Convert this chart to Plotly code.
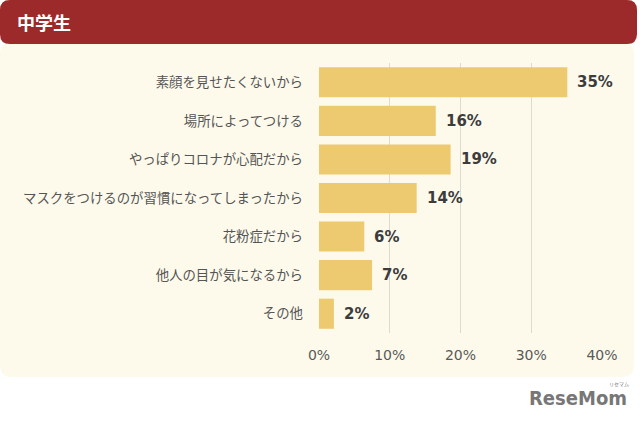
import plotly.graph_objects as go

categories = ["素顔を見せたくないから", "場所によってつける", "やっぱりコロナが心配だから",
              "マスクをつけるのが習慣になってしまったから", "花粉症だから", "他人の目が気になるから", "その他"]
values = [35.1, 16.5, 18.6, 13.8, 6.4, 7.5, 2.1]
value_labels = ["35%", "16%", "19%", "14%", "6%", "7%", "2%"]
tick_vals = [0, 10, 20, 30, 40]
tick_text = ["0%", "10%", "20%", "30%", "40%"]
title_text = "中学生"

W, H = 640, 421
L, R, T, B = 319, 602, 63, 333  # plot area in pixels

def px(x):
    return (x - L) / (R - L)

def py(y):
    return 1 - (y - T) / (B - T)

def rrect(x0, y0, x1, y1, r):
    pts = [
        ("M", x0 + r, y0), ("L", x1 - r, y0), ("Q", x1, y0, x1, y0 + r),
        ("L", x1, y1 - r), ("Q", x1, y1, x1 - r, y1), ("L", x0 + r, y1),
        ("Q", x0, y1, x0, y1 - r), ("L", x0, y0 + r), ("Q", x0, y0, x0 + r, y0),
    ]
    s = ""
    for p in pts:
        cmd = p[0]
        coords = p[1:]
        parts = []
        for i in range(0, len(coords), 2):
            parts.append(f"{px(coords[i]):.5f},{py(coords[i+1]):.5f}")
        s += cmd + " " + " ".join(parts) + " "
    return s + "Z"

fig = go.Figure()
fig.add_trace(go.Bar(
    x=values, y=categories, orientation="h",
    marker=dict(color="#EDC96F", line=dict(width=0)),
    hoverinfo="skip",
))

for v, c, t in zip(values, categories, value_labels):
    fig.add_annotation(x=v, y=c, text=t, showarrow=False, xanchor="left", xshift=8,
                       font=dict(family="DejaVu Sans", size=15, color="#3C3C3C", weight="bold"))

shapes = [
    dict(type="path", xref="paper", yref="paper", path=rrect(0, 42, 634, 377, 12),
         fillcolor="#FDFAEC", line=dict(width=0), layer="below"),
    dict(type="path", xref="paper", yref="paper", path=rrect(0, 0, 637, 44, 10),
         fillcolor="#9C2A2A", line=dict(width=0), layer="below"),
]

fig.add_annotation(xref="paper", yref="paper", x=px(15), y=py(22), text=f"<b>{title_text}</b>",
                   showarrow=False, xanchor="left", yanchor="middle",
                   font=dict(family="Noto Sans CJK JP", size=18, color="#FFFFFF"))
fig.add_annotation(xref="paper", yref="paper", x=px(629), y=py(398), text="<b>ReseMom</b>",
                   showarrow=False, xanchor="right", yanchor="middle",
                   font=dict(family="DejaVu Sans Condensed", size=20, color="#777777"))
fig.add_annotation(xref="paper", yref="paper", x=px(619), y=py(384), text="リセマム",
                   showarrow=False, xanchor="center", yanchor="middle",
                   font=dict(family="Noto Sans CJK JP", size=5, color="#7A7A7A"))

fig.update_layout(
    width=W, height=H,
    margin=dict(l=L, r=W - R, t=T, b=H - B, pad=0),
    paper_bgcolor="#FFFFFF", plot_bgcolor="rgba(0,0,0,0)",
    showlegend=False, bargap=0.22,
    shapes=shapes,
    xaxis=dict(range=[0, 40], tickvals=tick_vals, ticktext=tick_text, showgrid=True,
               gridcolor="#DDDAD0", gridwidth=1, zeroline=False, showline=False,
               ticks="", ticklabelstandoff=12,
               tickfont=dict(family="DejaVu Sans", size=14, color="#595959"), fixedrange=True),
    yaxis=dict(autorange="reversed", showgrid=False, zeroline=False, showline=False,
               ticks="", ticklabelstandoff=15,
               tickfont=dict(family="Noto Sans CJK JP", size=13.4, color="#555555"), fixedrange=True),
    font=dict(family="Noto Sans CJK JP"),
)

fig.write_html("out.html", config={"displayModeBar": False},
               post_script="document.body.style.margin='0';")
